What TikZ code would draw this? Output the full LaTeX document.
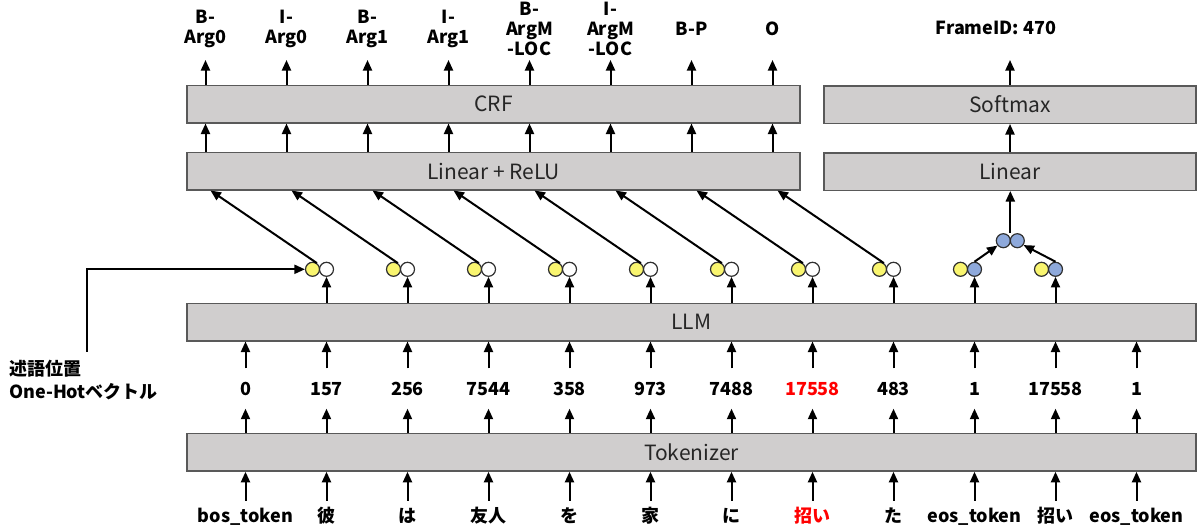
\documentclass[tikz,border=0pt]{standalone}
\usepackage{fontspec}
\setmainfont{Noto Sans CJK JP}
\usetikzlibrary{arrows.meta,calc}
\definecolor{boxfill}{HTML}{D0CECE}
\definecolor{boxline}{HTML}{595959}
\definecolor{boxtext}{HTML}{262626}
\definecolor{ylw}{HTML}{F9F56F}
\definecolor{blu}{HTML}{8EA9DB}
\definecolor{dotline}{HTML}{303030}
\definecolor{hl}{HTML}{FF0000}
\begin{document}
\begin{tikzpicture}[x=1pt,y=-1pt,
  layer/.style={draw=boxline,line width=1.5pt,fill=boxfill,minimum height=37.5pt,inner sep=0pt,
    font=\fontsize{21}{24}\selectfont,text=boxtext},
  arr/.style={line width=2pt,-{Triangle[length=10.5pt,width=9pt]}},
  lab/.style={font=\bfseries\fontsize{18}{20}\selectfont,align=center,inner sep=0pt},
  toklab/.style={lab,minimum height=34pt,text height=13pt,text depth=4pt},
  numlab/.style={lab,minimum height=40pt,text height=13pt,text depth=0pt},
  dot/.style={circle,draw=dotline,line width=1.2pt,minimum size=14pt,inner sep=0pt}]
\useasboundingbox (0,0) rectangle (1198,530);

% layer boxes
\node[layer,minimum width=613pt] (crf) at (493.5,104) {CRF};
\node[layer,minimum width=613pt] (lr) at (493.5,171) {Linear + ReLU};
\node[layer,minimum width=372pt] (sm) at (1010,104.5) {Softmax};
\node[layer,minimum width=372pt] (lin) at (1010,171.5) {Linear};
\node[layer,minimum width=1009pt] (llm) at (691.5,322) {LLM};
\node[layer,minimum width=1009pt] (tkz) at (691.5,452.3) {Tokenizer};

% output labels of CRF
\foreach \t [count=\i from 0] in {{B-\\Arg0},{I-\\Arg0},{B-\\Arg1},{I-\\Arg1},{B-\\ArgM\\-LOC},{I-\\ArgM\\-LOC},{B-P},{O}}{
  \node[lab] (o\i) at (205.5+81*\i,29) {\t};
  \coordinate (a\i) at (205.5+81*\i,60);
  \draw[arr] (a\i |- crf.north) -- (a\i);
  \draw[arr] (a\i |- lr.north) -- (a\i |- crf.south);
}

% frame output
\node[lab] (fid) at (996,28) {FrameID: 470};
\coordinate (fa) at (1010,60);
\draw[arr] (fa |- sm.north) -- (fa);
\draw[arr] (fa |- lin.north) -- (fa |- sm.south);

% tokens and ids
\foreach \t/\n/\c [count=\i from 0] in {bos\_token/0/black,彼/157/black,は/256/black,友人/7544/black,を/358/black,家/973/black,に/7488/black,招い/17558/hl,た/483/black,eos\_token/1/black,招い/17558/black,eos\_token/1/black}{
  \node[toklab,text=\c] (t\i) at (245.5+81*\i,517.7) {\t};
  \node[numlab,text=\c] (n\i) at (245.5+81*\i,388.5) {\n};
  \draw[arr] (t\i.north) -- (t\i.north |- tkz.south);
  \draw[arr] (n\i.south |- tkz.north) -- (n\i.south);
  \draw[arr] (n\i.north) -- (n\i.north |- llm.south);
}

% hidden-state circles
\foreach \i in {1,...,10}{
  \node[dot,fill=ylw] (y\i) at (231.5+81*\i,269.3) {};
}
\foreach \i in {1,...,8}{
  \node[dot,fill=white] (w\i) at (245.5+81*\i,269.3) {};
  \coordinate (d\i) at (129.5+81*\i,189.3);
  \draw[arr] (y\i.55) -- (d\i |- lr.south);
}
\foreach \i in {9,10}{
  \node[dot,fill=blu] (w\i) at (245.5+81*\i,269.3) {};
}
\foreach \i in {1,...,10}{
  \draw[arr] (w\i.south |- llm.north) -- (w\i.south);
}

% pooled pair
\node[dot,fill=blu] (b1) at (1003.3,240.7) {};
\node[dot,fill=blu] (b2) at (1017.3,240.7) {};
\draw[arr] (w9.north) -- (b1.220);
\draw[arr] (w10.north) -- (b2.-35);
\coordinate (bt) at ($(b1.north)!0.5!(b2.north)$);
\draw[arr] (bt) -- (bt |- lin.south);

% predicate one-hot
\node[lab,align=left,anchor=west,font=\bfseries\fontsize{18}{22.7}\selectfont] (oh) at (9,380.3) {述語位置\\One-Hotベクトル};
\coordinate (ohs) at (86.7,351.7);
\draw[arr] (ohs) |- (y1.west);
\end{tikzpicture}
\end{document}
